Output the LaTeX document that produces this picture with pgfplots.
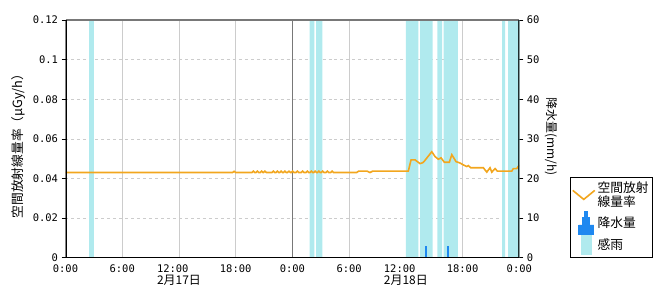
\documentclass[border=0pt]{standalone}
\usepackage{fontspec}
\setmainfont{Noto Sans CJK JP}
\newfontfamily\tickfont{DejaVu Sans Mono}
\newfontfamily\jpfont{Noto Sans CJK JP}
\usepackage{pgfplots}
\usepackage{pgfplotstable}
\pgfplotsset{compat=1.18}
\definecolor{dosec}{RGB}{242,166,30}
\definecolor{bandc}{RGB}{176,234,238}
\definecolor{rainc}{RGB}{30,136,240}
\definecolor{gridc}{RGB}{204,204,204}
\definecolor{midc}{RGB}{120,120,120}
\definecolor{rightc}{RGB}{30,45,45}

\pgfplotstableread{
h d
0.00 0.0430
17.66 0.0430
17.83 0.0436
18.00 0.0430
19.72 0.0430
19.87 0.0437
20.02 0.0430
20.14 0.0430
20.29 0.0437
20.44 0.0430
20.60 0.0430
20.75 0.0437
20.90 0.0430
20.95 0.0430
21.10 0.0437
21.25 0.0430
21.83 0.0430
21.98 0.0437
22.13 0.0430
22.25 0.0430
22.40 0.0437
22.55 0.0430
22.65 0.0430
22.80 0.0437
22.95 0.0430
23.05 0.0430
23.20 0.0437
23.35 0.0430
23.49 0.0430
23.64 0.0437
23.79 0.0430
23.88 0.0430
24.03 0.0437
24.18 0.0430
24.37 0.0430
24.52 0.0437
24.67 0.0430
24.94 0.0430
25.09 0.0437
25.24 0.0430
25.43 0.0430
25.58 0.0437
25.73 0.0430
25.85 0.0430
26.00 0.0437
26.15 0.0430
26.25 0.0430
26.40 0.0437
26.55 0.0430
26.65 0.0430
26.80 0.0437
26.95 0.0430
27.05 0.0430
27.20 0.0437
27.35 0.0430
27.55 0.0430
27.70 0.0437
27.85 0.0430
28.05 0.0430
28.20 0.0437
28.35 0.0430
30.80 0.0430
31.00 0.0437
31.90 0.0437
32.20 0.0430
32.50 0.0437
36.26 0.0437
36.55 0.0494
36.97 0.0494
37.50 0.0475
37.80 0.0480
38.00 0.0490
38.74 0.0535
39.10 0.0510
39.44 0.0497
39.72 0.0504
40.07 0.0482
40.60 0.0482
40.86 0.0520
41.31 0.0485
41.73 0.0478
42.10 0.0468
42.44 0.0460
42.61 0.0465
42.86 0.0454
44.20 0.0454
44.56 0.0432
44.90 0.0454
45.09 0.0432
45.44 0.0450
45.68 0.0437
47.20 0.0437
47.37 0.0450
47.73 0.0450
48.00 0.0468
}\dosetable

\pgfplotstableread{
h r
38.17 3
40.50 3
}\raintable

\begin{document}
\begin{tikzpicture}
\useasboundingbox (0,0) rectangle (670bp,300bp);
\pgfplotsset{base/.style={at={(65.5bp,42.3bp)}, anchor=south west,
  scale only axis, width=453.8bp, height=237.7bp, xmin=0, xmax=48,
  axis line style={draw=none},
  tick label style={font=\tickfont\fontsize{10.5}{12}\selectfont},
  /pgf/number format/assume math mode=true,
  tick align=outside, major tick length=4bp}}

% rain axis (right)
\begin{axis}[base, ymin=0, ymax=60,
  xtick={0,6,12,18,30,36,42,48}, xticklabels={},
  extra x ticks={24}, extra x tick labels={},
  extra x tick style={grid=major, major grid style={midc, solid, line width=0.8bp}},
  xmajorgrids, ymajorgrids,
  major grid style={gridc, line width=0.6bp},
  y grid style={dashed},
  ytick={0,10,20,30,40,50,60}, yticklabels={0,10,20,30,40,50,60},
  ytick pos=right, yticklabel pos=right,
  x tick style={draw=none}, y tick style={black, line width=0.6bp},
  ylabel={降水量(mm/h)},
  every axis y label/.style={at={(axis description cs:1.07,0.508)}, anchor=center, rotate=-90, font=\fontsize{12}{13}\selectfont},
]
\addplot[fill=bandc, draw=none] coordinates {(2.5,0) (2.5,60) (3.0,60) (3.0,0)} \closedcycle;
\addplot[fill=bandc, draw=none] coordinates {(25.83,0) (25.83,60) (26.33,60) (26.33,0)} \closedcycle;
\addplot[fill=bandc, draw=none] coordinates {(26.5,0) (26.5,60) (27.17,60) (27.17,0)} \closedcycle;
\addplot[fill=bandc, draw=none] coordinates {(36.0,0) (36.0,60) (37.33,60) (37.33,0)} \closedcycle;
\addplot[fill=bandc, draw=none] coordinates {(37.5,0) (37.5,60) (38.83,60) (38.83,0)} \closedcycle;
\addplot[fill=bandc, draw=none] coordinates {(39.33,0) (39.33,60) (39.83,60) (39.83,0)} \closedcycle;
\addplot[fill=bandc, draw=none] coordinates {(40.0,0) (40.0,60) (41.5,60) (41.5,0)} \closedcycle;
\addplot[fill=bandc, draw=none] coordinates {(46.17,0) (46.17,60) (46.5,60) (46.5,0)} \closedcycle;
\addplot[fill=bandc, draw=none] coordinates {(46.83,0) (46.83,60) (48,60) (48,0)} \closedcycle;
\addplot[ycomb, rainc, line width=2bp] table[x=h, y=r] {\raintable};
\end{axis}

% dose axis (left)
\begin{axis}[base, ymin=0, ymax=0.12,
  ytick={0,0.02,0.04,0.06,0.08,0.1,0.12},
  yticklabels={0,0.02,0.04,0.06,0.08,0.1,0.12},
  ytick pos=left,
  xtick={0,6,12,18,24,30,36,42,48},
  xticklabels={0:00,6:00,{12:00\\{\jpfont\fontsize{12}{13}\selectfont 2月17日}},18:00,0:00,6:00,{12:00\\{\jpfont\fontsize{12}{13}\selectfont 2月18日}},18:00,0:00},
  xticklabel style={align=left, anchor=north},
  x tick style={draw=none}, y tick style={black, line width=0.6bp},
  ylabel={空間放射線量率（μGy/h）},
  every axis y label/.style={at={(axis description cs:-0.1025,0.4825)}, anchor=center, rotate=90, font=\fontsize{12.8}{13}\selectfont},
  legend style={at={(axis description cs:1.111,0.339)}, anchor=north west,
    draw=black, line width=0.6bp, font=\fontsize{12.8}{13.5}\selectfont,
    inner sep=2bp, row sep=1bp, cells={anchor=west, inner xsep=3bp}},
  legend cell align=left,
]
\addplot[dosec, line width=1.6bp, forget plot] table[x=h, y=d] {\dosetable};
\draw[midc, line width=2bp] (rel axis cs:0,1) -- (rel axis cs:1,1);
\draw[rightc, line width=2bp] (rel axis cs:1,0) -- (rel axis cs:1,1);
\draw[black, line width=2bp] (rel axis cs:0,1) -- (rel axis cs:0,0) -- (rel axis cs:1,0);
\addlegendimage{legend image code/.code={\draw[dosec, line width=1.6bp] (0bp,4.5bp) -- (11bp,-4.5bp) -- (22bp,4.5bp);}}
\addlegendentry{\shortstack[l]{空間放射\\線量率}}
\addlegendimage{legend image code/.code={\fill[rainc] (6bp,-11bp) -- (6bp,-2bp) -- (9.3bp,-2bp) -- (9.3bp,5.7bp) -- (11.7bp,5.7bp) -- (11.7bp,11.3bp) -- (15bp,11.3bp) -- (15bp,5.7bp) -- (16.7bp,5.7bp) -- (16.7bp,-2bp) -- (21bp,-2bp) -- (21bp,-11bp) -- cycle;}}
\addlegendentry{降水量}
\addlegendimage{legend image code/.code={\fill[bandc] (8.7bp,-9.5bp) rectangle (18.7bp,9.5bp);}}
\addlegendentry{感雨}
\end{axis}
\end{tikzpicture}
\end{document}
